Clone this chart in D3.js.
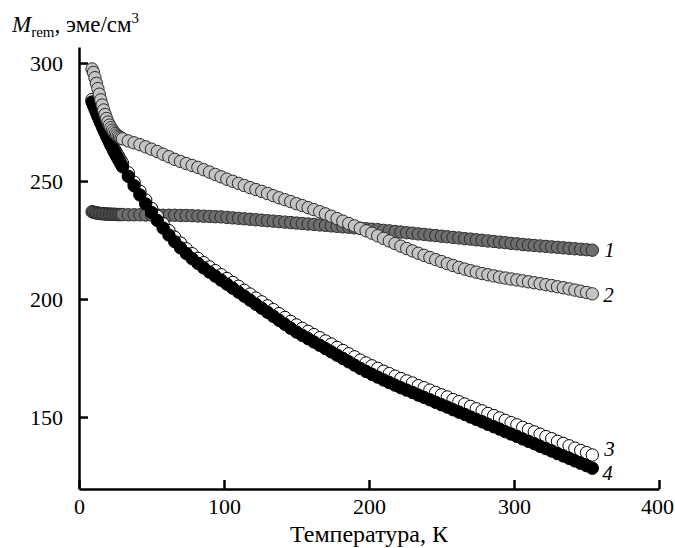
<!DOCTYPE html>
<html>
<head>
<meta charset="utf-8">
<script src="https://cdn.jsdelivr.net/npm/d3@7"></script>
<style>
  body { margin: 0; background: #fff; }
  .axis path, .axis line { stroke: #000; stroke-width: 2.5; }
</style>
</head>
<body>
<svg id="chart" width="675" height="548" font-family="Liberation Serif"></svg>
<script>
// temperature points, K (denser sampling at the start)
const temps = [9, 10, 11, 12, 13, 14, 15, 16, 17, 18, 19, 20, 21, 22, 23, 24, 25, 26, 27, 28, 29, 30,
  34, 38, 42, 46, 50, 54, 58, 62, 66, 70, 74, 78, 82, 86, 90, 94, 98, 102, 106, 110,
  114, 118, 122, 126, 130, 134, 138, 142, 146, 150, 154, 158, 162, 166, 170, 174, 178, 182,
  186, 190, 194, 198, 202, 206, 210, 214, 218, 222, 226, 230, 234, 238, 242, 246, 250, 254,
  258, 262, 266, 270, 274, 278, 282, 286, 290, 294, 298, 302, 306, 310, 314, 318, 322, 326,
  330, 334, 338, 342, 346, 350, 354];

// M_rem, emu/cm3
const curve1 = [237.0, 236.8, 236.6, 236.5, 236.4, 236.3, 236.2, 236.2, 236.1, 236.1, 236.0, 236.0, 236.0, 235.9, 235.9, 235.9, 235.9, 235.8, 235.8, 235.8, 235.8, 235.8,
  235.7, 235.7, 235.7, 235.6, 235.6, 235.6, 235.5, 235.5, 235.5, 235.4, 235.4, 235.3, 235.2, 235.1, 235.0, 234.9, 234.8, 234.6, 234.4, 234.2,
  234.0, 233.8, 233.6, 233.4, 233.2, 233.0, 232.8, 232.6, 232.4, 232.2, 232.0, 231.8, 231.6, 231.4, 231.2, 231.0, 230.8, 230.6,
  230.4, 230.2, 230.0, 229.8, 229.6, 229.4, 229.1, 228.9, 228.6, 228.4, 228.1, 227.9, 227.6, 227.4, 227.1, 226.9, 226.6, 226.4,
  226.1, 225.9, 225.6, 225.4, 225.1, 224.9, 224.6, 224.4, 224.1, 223.9, 223.6, 223.4, 223.1, 222.9, 222.7, 222.5, 222.3, 222.1,
  221.9, 221.7, 221.5, 221.3, 221.1, 220.9, 220.7];

const curve2 = [297.5, 296.0, 293.8, 291.4, 289.2, 286.8, 284.4, 282.2, 280.1, 278.2, 276.5, 275.0, 273.7, 272.6, 271.6, 270.8, 270.1, 269.5, 269.0, 268.6, 268.2, 267.9,
  267.0, 266.2, 265.4, 264.5, 263.5, 262.5, 261.4, 260.3, 259.2, 258.3, 257.4, 256.6, 255.8, 254.8, 253.8, 252.8, 251.8, 250.8, 249.9, 249.0,
  248.1, 247.2, 246.4, 245.6, 244.7, 243.8, 242.9, 242.1, 241.3, 240.4, 239.6, 238.7, 237.9, 237.0, 236.1, 235.1, 234.1, 233.0,
  232.0, 231.0, 229.9, 228.9, 227.9, 226.8, 225.7, 224.6, 223.5, 222.4, 221.4, 220.4, 219.4, 218.5, 217.6, 216.7, 215.9, 215.0,
  214.2, 213.4, 212.7, 212.0, 211.4, 210.8, 210.3, 209.8, 209.3, 208.9, 208.5, 208.1, 207.7, 207.3, 206.9, 206.5, 206.1, 205.7,
  205.2, 204.8, 204.3, 203.8, 203.3, 202.8, 202.2];

const curve3 = [284.5, 283.0, 281.5, 280.0, 278.6, 277.1, 275.7, 274.3, 272.9, 271.6, 270.3, 269.0, 267.7, 266.5, 265.3, 264.1, 262.9, 261.8, 260.7, 259.6, 258.6, 257.5,
  253.5, 249.5, 245.7, 242.0, 238.4, 235.1, 231.9, 229.0, 226.2, 223.7, 221.3, 219.2, 217.2, 215.4, 213.6, 212.0, 210.3, 208.7, 207.0, 205.4,
  203.7, 202.1, 200.4, 198.8, 197.1, 195.5, 193.8, 192.2, 190.5, 189.0, 187.6, 186.3, 184.9, 183.6, 182.2, 180.9, 179.5, 178.2,
  176.8, 175.5, 174.1, 172.9, 171.7, 170.6, 169.4, 168.4, 167.3, 166.3, 165.3, 164.4, 163.3, 162.4, 161.4, 160.4, 159.4, 158.5,
  157.4, 156.5, 155.5, 154.5, 153.5, 152.6, 151.5, 150.6, 149.6, 148.6, 147.6, 146.7, 145.6, 144.7, 143.7, 142.7, 141.7, 140.8,
  139.7, 138.8, 137.8, 136.8, 135.8, 134.9, 133.9];

const curve4 = [283.5, 282.0, 280.5, 279.0, 277.5, 276.0, 274.6, 273.2, 271.8, 270.4, 269.1, 267.8, 266.5, 265.2, 264.0, 262.8, 261.6, 260.5, 259.4, 258.3, 257.2, 256.1,
  252.0, 248.0, 244.1, 240.3, 236.7, 233.3, 230.1, 227.1, 224.3, 221.7, 219.3, 217.1, 215.1, 213.2, 211.4, 209.7, 208.0, 206.3, 204.6, 202.9,
  201.2, 199.5, 197.8, 196.1, 194.4, 192.7, 191.0, 189.3, 187.6, 186.0, 184.6, 183.2, 181.8, 180.4, 179.0, 177.6, 176.2, 174.8,
  173.4, 172.0, 170.6, 169.3, 168.1, 166.9, 165.7, 164.6, 163.5, 162.4, 161.4, 160.4, 159.3, 158.3, 157.3, 156.2, 155.2, 154.2,
  153.1, 152.1, 151.1, 150.0, 149.0, 148.0, 146.9, 145.9, 144.9, 143.8, 142.8, 141.8, 140.7, 139.7, 138.7, 137.6, 136.6, 135.6,
  134.5, 133.5, 132.5, 131.4, 130.4, 129.4, 128.3];

const xTicks = [0, 100, 200, 300, 400];
const yTicks = [150, 200, 250, 300];

// drawing order: 1 at the back, 2 on top
const series = [
  { name: '1', values: curve1, fill: '#6e6e6e', stroke: '#2a2a2a', dx: 12, dy: 7 },
  { name: '3', values: curve3, fill: '#ffffff', stroke: '#000000', dx: 12, dy: 1 },
  { name: '4', values: curve4, fill: '#000000', stroke: '#000000', dx: 10, dy: 12 },
  { name: '2', values: curve2, fill: '#c4c4c4', stroke: '#2a2a2a', dx: 11, dy: 8 }
];

const FONT = 'Liberation Serif';
const svg = d3.select('#chart');

const x = d3.scaleLinear().domain([0, 400]).range([79, 659]);
const y = d3.scaleLinear().domain([119.5, 306.8]).range([489, 47]);

svg.append('g')
  .attr('class', 'axis')
  .attr('transform', 'translate(0, 489)')
  .call(d3.axisBottom(x).tickValues(xTicks).tickSizeInner(-9).tickSizeOuter(0).tickPadding(9))
  .call(g => g.attr('font-family', FONT).attr('font-size', 22))
  .call(g => g.selectAll('.tick text').filter(d => d === 400).attr('dx', -2));

svg.append('g')
  .attr('class', 'axis')
  .attr('transform', 'translate(79, 0)')
  .call(d3.axisLeft(y).tickValues(yTicks).tickSizeInner(-9).tickSizeOuter(0).tickPadding(16))
  .call(g => g.attr('font-family', FONT).attr('font-size', 22));

series.forEach(s => {
  const pts = temps.map((t, i) => [t, s.values[i]]);
  svg.append('g')
    .selectAll('circle')
    .data(pts)
    .enter()
    .append('circle')
    .attr('cx', d => x(d[0]))
    .attr('cy', d => y(d[1]))
    .attr('r', 6.2)
    .attr('fill', s.fill)
    .attr('stroke', s.stroke)
    .attr('stroke-width', 1);

  const last = pts[pts.length - 1];
  svg.append('text')
    .attr('x', x(last[0]) + s.dx)
    .attr('y', y(last[1]) + s.dy)
    .attr('font-family', FONT)
    .attr('font-size', 21)
    .attr('font-style', 'italic')
    .text(s.name);
});

// axis titles
const yTitle = svg.append('text')
  .attr('x', 12)
  .attr('y', 32)
  .attr('font-family', FONT)
  .attr('font-size', 23);
yTitle.append('tspan').attr('font-style', 'italic').text('M');
yTitle.append('tspan').attr('font-size', 15).attr('dy', 5).text('rem');
yTitle.append('tspan').attr('dy', -5).text(', эме/см');
yTitle.append('tspan').attr('font-size', 15).attr('dy', -9).text('3');

svg.append('text')
  .attr('x', x(200))
  .attr('y', 542)
  .attr('text-anchor', 'middle')
  .attr('font-family', FONT)
  .attr('font-size', 24)
  .text('Температура, К');
</script>
</body>
</html>
